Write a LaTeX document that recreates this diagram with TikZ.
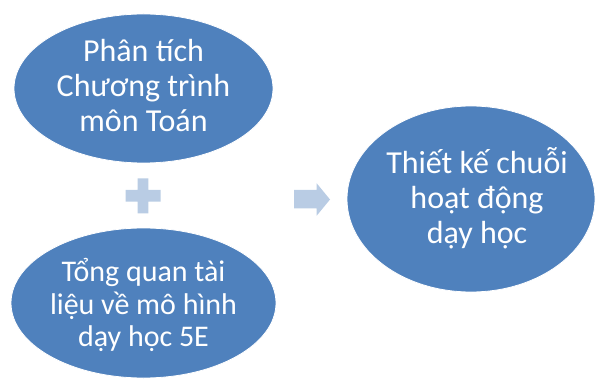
\documentclass[tikz,border=0pt]{standalone}
\usepackage{fontspec}
\setmainfont{Carlito}
\usetikzlibrary{shapes.geometric}
\definecolor{ovalblue}{RGB}{79,129,189}
\definecolor{signblue}{RGB}{185,204,228}
\tikzset{
  oval/.style={ellipse, fill=ovalblue, draw=white, line width=0.8pt, inner sep=0pt},
  ovaltext/.style={text=white, align=center, inner sep=0pt,
    font=\fontsize{32}{35}\selectfont},
  sign/.style={fill=signblue, draw=none}
}
\begin{document}
\begin{tikzpicture}[x=1pt,y=-1pt]
\useasboundingbox (0,0) rectangle (596,379);
\node[oval, minimum width=259pt, minimum height=149pt] (a) at (143.5,88.5) {};
\node[oval, minimum width=265pt, minimum height=150pt] (b) at (143.5,303) {};
\node[oval, minimum width=248pt, minimum height=186pt] (c) at (471,199) {};
\node[ovaltext] (ta) at (143.5,86) {Phân tích\\Chương trình\\môn Toán};
\node[ovaltext, font=\fontsize{30}{32.5}\selectfont] (tb) at (143.5,305)
  {Tổng quan tài\\liệu về mô hình\\dạy học 5E};
\node[ovaltext] (tc) at (477,198) {Thiết kế chuỗi\\hoạt động\\dạy học};
% plus sign
\fill[sign] (137.7,178.3) -- (148.3,178.3) -- (148.3,190) -- (160.7,190) -- (160.7,201.7)
  -- (148.3,201.7) -- (148.3,213.3) -- (137.7,213.3) -- (137.7,201.7) -- (125.7,201.7)
  -- (125.7,190) -- (137.7,190) -- cycle;
% arrow
\fill[sign] (294,190) -- (316.7,190) -- (316.7,183.3) -- (330,199.5) -- (316.7,215.7)
  -- (316.7,208.3) -- (294,208.3) -- cycle;
\end{tikzpicture}
\end{document}
